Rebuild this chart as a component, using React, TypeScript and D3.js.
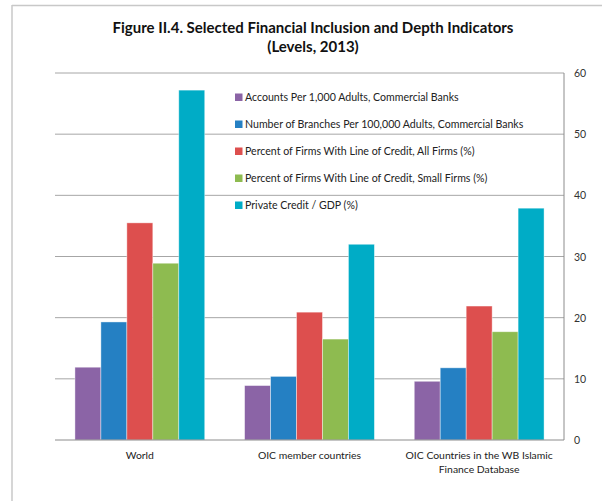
import React from "react";
import * as d3 from "d3";

const categories = ["World", "OIC member countries", "OIC Countries in the WB Islamic|Finance Database"];
const seriesNames = [
  "Accounts Per 1,000 Adults, Commercial Banks",
  "Number of Branches Per 100,000  Adults, Commercial Banks",
  "Percent of Firms With Line of Credit, All Firms (%)",
  "Percent of Firms With Line of Credit, Small Firms (%)",
  "Private Credit / GDP (%)",
];
const seriesColors = ["#8B64A6", "#2580C3", "#DD4F4E", "#8EBB50", "#00ACC6"];
const accounts = [11.9, 8.9, 9.6];
const branches = [19.3, 10.4, 11.8];
const creditAll = [35.5, 20.9, 21.9];
const creditSmall = [28.9, 16.5, 17.7];
const privateCredit = [57.2, 32.0, 37.9];
const yTicks = [0, 10, 20, 30, 40, 50, 60];

const seriesValues = [accounts, branches, creditAll, creditSmall, privateCredit];

const FONT = "Lato, 'Open Sans', sans-serif";

export default function App() {
  const W = 602, H = 501;
  const left = 55, right = 564, top = 73, bottom = 440;
  const x0 = d3.scaleBand<number>().domain(d3.range(categories.length)).range([left, right]).paddingInner(0.235).paddingOuter(0.1175);
  const x1 = d3.scaleBand<number>().domain(d3.range(seriesNames.length)).range([0, x0.bandwidth()]);
  const y = d3.scaleLinear().domain([0, 60]).range([bottom, top]);

  return (
    <svg width={W} height={H} style={{ position: "absolute", left: 0, top: 0, background: "#fff" }} fontFamily={FONT}>
      <rect x={0} y={0} width={W} height={H} fill="#fff" />
      <line x1={12} y1={5.5} x2={W} y2={5.5} stroke="#c8c8c8" strokeWidth={1.5} />
      <line x1={12} y1={5} x2={12} y2={H} stroke="#c8c8c8" strokeWidth={1.5} />
      <text x={313} y={33} textAnchor="middle" fontSize={15} fontWeight="bold" fill="#111">
        Figure II.4. Selected Financial Inclusion and Depth Indicators
      </text>
      <text x={313} y={52} textAnchor="middle" fontSize={15} fontWeight="bold" fill="#111">
        (Levels, 2013)
      </text>
      {yTicks.map((t) => (
        <g key={t}>
          {t > 0 && <line x1={left} x2={right} y1={y(t)} y2={y(t)} stroke="#a6a6a6" strokeWidth={1} />}
          <text x={574} y={y(t) + 4} fontSize={10.5} fill="#333">{t}</text>
        </g>
      ))}
      {categories.map((c, ci) =>
        seriesValues.map((vals, si) => (
          <rect
            key={ci + "-" + si}
            x={(x0(ci) as number) + (x1(si) as number)}
            y={y(vals[ci])}
            width={x1.bandwidth()}
            height={y(0) - y(vals[ci])}
            fill={seriesColors[si]}
            stroke="#ffffff"
            strokeOpacity={0.5}
            strokeWidth={0.8}
          />
        ))
      )}
      <line x1={right} x2={right} y1={top} y2={bottom} stroke="#8c8c8c" strokeWidth={1} />
      <line x1={left} x2={right} y1={bottom} y2={bottom} stroke="#8c8c8c" strokeWidth={1} />
      {categories.map((c, ci) => {
        const cx = (x0(ci) as number) + x0.bandwidth() / 2;
        return c.split("|").map((ln, li) => (
          <text key={ci + "-" + li} x={cx} y={459 + li * 14} textAnchor="middle" fontSize={10.4} fill="#222">{ln}</text>
        ));
      })}
      {seriesNames.map((s, si) => (
        <g key={s}>
          <rect x={235} y={93.5 + si * 27} width={7.5} height={7.5} fill={seriesColors[si]} />
          <text x={245} y={101 + si * 27} fontSize={10.6} fill="#222">{s}</text>
        </g>
      ))}
    </svg>
  );
}
